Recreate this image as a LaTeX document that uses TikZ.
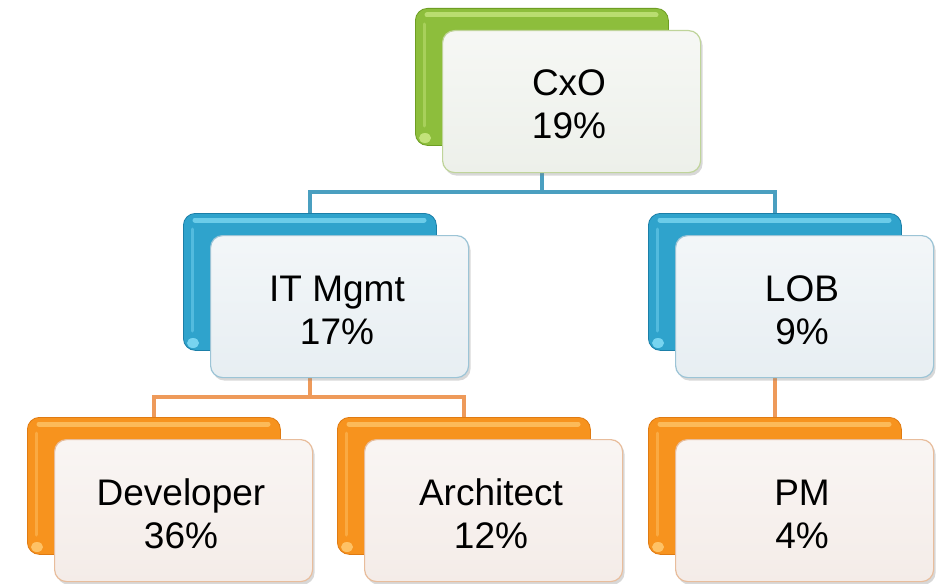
\documentclass[tikz,border=0pt]{standalone}
\usepackage{fontspec}
\setmainfont{Liberation Sans}
\usetikzlibrary{shadows}
\definecolor{gmain}{HTML}{8DBE3C}
\definecolor{gdark}{HTML}{6E9E24}
\definecolor{glight}{HTML}{C9E882}
\definecolor{gedge}{HTML}{BFD49A}
\definecolor{gfill}{HTML}{EDF0EA}
\definecolor{bmain}{HTML}{2FA3CC}
\definecolor{bdark}{HTML}{1B7FA8}
\definecolor{blight}{HTML}{80DAF4}
\definecolor{bedge}{HTML}{9CC4D6}
\definecolor{bfill}{HTML}{E7EEF2}
\definecolor{omain}{HTML}{F7931E}
\definecolor{odark}{HTML}{E07B12}
\definecolor{olight}{HTML}{FFC86E}
\definecolor{oedge}{HTML}{E8BD9C}
\definecolor{ofill}{HTML}{F4ECE8}
\definecolor{bline}{HTML}{4A9FC0}
\definecolor{oline}{HTML}{EE9A5A}
\pgfdeclarelayer{bg}
\pgfsetlayers{bg,main}
\tikzset{
  backbox/.style={rounded corners=12pt, fill=#1main, draw=#1dark, line width=0.8pt,
    minimum width=253pt, minimum height=137pt, anchor=north west, inner sep=0pt},
  hilite/.style={draw=#1light, line width=5pt, line cap=round, opacity=0.75},
  sidelite/.style={draw=#1light, line width=3pt, line cap=round, opacity=0.45},
  spot/.style={fill=#1light, opacity=0.9},
  frontbox/.style={rounded corners=12pt, top color=#1fill!50!white, bottom color=#1fill,
    draw=#1edge, line width=1.2pt,
    drop shadow={shadow xshift=2pt, shadow yshift=-3pt, opacity=0.3, fill=gray},
    minimum width=258pt, minimum height=142pt, anchor=north west, inner sep=0pt},
  lbl/.style={font=\fontsize{37}{43}\selectfont, text=black, inner sep=0pt, anchor=base},
  bcon/.style={draw=bline, line width=3.2pt},
  ocon/.style={draw=oline, line width=3.2pt}
}
\newcommand{\orgbox}[6]{%
  \node[backbox=#4] (#1B) at (#2,#3) {};
  \draw[hilite=#4] ({#2+12},{#3+7}) -- ({#2+241},{#3+7});
  \draw[sidelite=#4] ({#2+9},{#3+16}) -- ({#2+9},{#3+118});
  \fill[spot=#4] ({#2+10},{#3+130}) ellipse (6pt and 5pt);
  \node[frontbox=#4] (#1F) at ({#2+27},{#3+22}) {};
  \node[lbl] (#1L) at ({#2+154},{#3+88}) {#5};
  \node[lbl] (#1P) at ({#2+154},{#3+131}) {#6};
}
\begin{document}
\begin{tikzpicture}[x=1pt,y=-1pt]
\begin{pgfonlayer}{bg}
  \fill[white] (0,0) rectangle (944,583);
\end{pgfonlayer}
\useasboundingbox (0,0) rectangle (944,583);
\orgbox{cxo}{415}{8}{g}{CxO}{19\%}
\orgbox{it}{183}{213}{b}{IT Mgmt}{17\%}
\orgbox{lob}{648}{213}{b}{LOB}{9\%}
\orgbox{dev}{27}{417}{o}{Developer}{36\%}
\orgbox{arc}{337}{417}{o}{Architect}{12\%}
\orgbox{pm}{648}{417}{o}{PM}{4\%}
\coordinate (bus1) at (542,192);
\coordinate (bus2) at (307,397);
\begin{pgfonlayer}{bg}
  \draw[bcon] (cxoB.north |- cxoF.south) -- (cxoB.north |- bus1);
  \draw[bcon] (itB.north) |- (lobB.north |- bus1) -- (lobB.north);
  \draw[ocon] (itB.north |- itF.south) -- (itB.north |- bus2);
  \draw[ocon] (devB.north) |- (arcB.north |- bus2) -- (arcB.north);
  \draw[ocon] (lobB.north |- lobF.south) -- (pmB.north);
\end{pgfonlayer}
\end{tikzpicture}
\end{document}
